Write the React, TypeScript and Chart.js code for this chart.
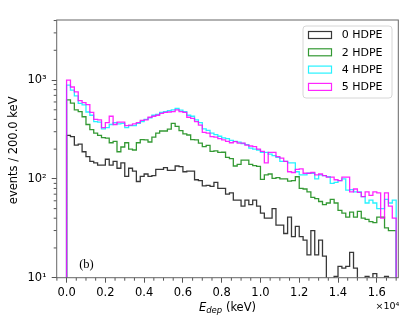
import React, { useEffect, useRef } from 'react';
import { Chart, registerables } from 'chart.js';

Chart.register(...registerables);

// ---- data (counts per 200 keV bin, bins start at 0 keV) ----
const BIN_WIDTH = 200;
const SERIES_LABELS = ['0 HDPE', '2 HDPE', '4 HDPE', '5 HDPE'];

const HDPE0 = [
  275, 268, 220, 225, 188, 168, 150, 145, 138, 138,
  158, 138, 150, 128, 145, 106, 128, 120, 94, 106,
  112, 106, 108, 125, 125, 130, 122, 122, 135, 133,
  118, 120, 120, 98, 96, 85, 86, 84, 92, 80,
  80, 70, 72, 61, 61, 53, 61, 55, 61, 53,
  45, 40, 40, 50, 34, 34, 28, 41, 26, 33,
  26, 24, 17, 30, 17, 24, 16.5, 0, 0, 10.3,
  13, 12.5, 13, 18, 12.5, 0, 0, 10.3, 0, 11,
  0, 0, 10.3, 0, 0,
];

const HDPE2 = [
  630, 585, 500, 480, 425, 355, 315, 290, 275, 262,
  258, 232, 240, 188, 210, 232, 200, 196, 232, 250,
  248, 236, 265, 290, 305, 305, 318, 365, 340, 308,
  285, 278, 250, 248, 230, 212, 218, 190, 192, 185,
  186, 165, 160, 135, 140, 155, 155, 140, 136, 134,
  99, 110, 112, 101, 103, 100, 100, 95, 96, 105,
  80, 79, 74, 65, 63, 59, 55, 57, 62, 57,
  48, 45, 41, 46, 41, 47, 40, 39, 37, 36,
  41, 41, 32, 30, 30,
];

const HDPE4 = [
  890, 790, 690, 580, 560, 475, 440, 380, 375, 320,
  330, 355, 370, 360, 365, 330, 345, 345, 365, 380,
  400, 415, 440, 450, 470, 480, 490, 500, 515, 495,
  480, 440, 430, 395, 370, 320, 310, 290, 280, 270,
  260, 255, 245, 240, 235, 228, 222, 205, 200, 195,
  185, 185, 178, 172, 165, 150, 150, 145, 145, 118,
  110, 110, 114, 114, 100, 110, 108, 105, 90, 92,
  96, 100, 77, 78, 74, 74, 66, 57, 61, 57,
  50, 50, 62, 57, 61,
];

const HDPE5 = [
  1000, 850, 760, 620, 590, 565, 470, 400, 395, 330,
  370, 430, 355, 375, 375, 345, 350, 360, 370, 390,
  395, 420, 430, 440, 460, 470, 475, 480, 500, 480,
  470, 420, 410, 380, 350, 295, 290, 268, 265, 255,
  248, 240, 232, 238, 230, 230, 220, 215, 212, 200,
  190, 145, 185, 185, 168, 162, 150, 118, 116, 125,
  126, 114, 114, 116, 110, 112, 108, 104, 104, 98,
  96, 104, 104, 74, 79, 73, 66, 74, 68, 74,
  72, 40, 72, 53, 40,
];

const X_MIN = -510;
const X_MAX = 17110;
const Y_MIN = 10;
const Y_MAX = 4050;
const X_TICKS = [0, 2000, 4000, 6000, 8000, 10000, 12000, 14000, 16000];
const X_MINOR_STEP = 500;
const Y_TICKS = [10, 100, 1000];
const Y_MINOR_MULT = [2, 3, 4, 5, 6, 7, 8, 9];
const SUP: Record<number, string> = { 1: '\u00b9', 2: '\u00b2', 3: '\u00b3', 4: '\u2074' };

const COLORS = ['rgba(0,0,0,0.78)', 'rgba(0,128,0,0.8)', 'rgba(0,240,255,0.85)', 'rgba(255,0,255,0.85)'];
const AXIS_COLOR = '#555';
const FONT = '"DejaVu Sans", sans-serif';
const FLOOR = 1; // zero counts drop below the log axis

function histPoints(vals: number[]) {
  const pts: { x: number; y: number }[] = [{ x: 0, y: FLOOR }];
  vals.forEach((v, i) => {
    const y = v > 0 ? v : FLOOR;
    pts.push({ x: i * BIN_WIDTH, y });
    pts.push({ x: (i + 1) * BIN_WIDTH, y });
  });
  pts.push({ x: vals.length * BIN_WIDTH, y: FLOOR });
  return pts;
}

const decor = {
  id: 'decor',
  afterDraw(chart: any) {
    const { ctx, chartArea: a, scales } = chart;
    const x = scales.x;
    const y = scales.y;
    ctx.save();
    // minor ticks
    ctx.strokeStyle = AXIS_COLOR;
    ctx.lineWidth = 1;
    ctx.beginPath();
    for (let v = Math.ceil(X_MIN / X_MINOR_STEP) * X_MINOR_STEP; v <= X_MAX; v += X_MINOR_STEP) {
      if (X_TICKS.includes(v)) continue;
      const px = x.getPixelForValue(v);
      if (px < a.left - 0.5 || px > a.right + 0.5) continue;
      ctx.moveTo(px, a.bottom);
      ctx.lineTo(px, a.bottom + 3);
    }
    for (const d of Y_TICKS) {
      for (const m of Y_MINOR_MULT) {
        const v = m * d;
        if (v > Y_MAX) continue;
        const py = y.getPixelForValue(v);
        ctx.moveTo(a.left - 3, py);
        ctx.lineTo(a.left, py);
      }
    }
    ctx.stroke();
    // frame
    ctx.strokeStyle = '#666';
    ctx.strokeRect(a.left, a.top, a.right - a.left, a.bottom - a.top);

    // x title: E_dep (keV)
    ctx.fillStyle = '#000';
    ctx.textBaseline = 'alphabetic';
    ctx.textAlign = 'left';
    const big = 11.5;
    ctx.font = `italic ${big}px ${FONT}`;
    const wE = ctx.measureText('E').width;
    ctx.font = `italic 8.5px ${FONT}`;
    const wD = ctx.measureText('dep').width;
    ctx.font = `${big}px ${FONT}`;
    const wK = ctx.measureText(' (keV)').width;
    const cx = (a.left + a.right) / 2;
    const base = a.bottom + 32.8;
    let sx = cx - (wE + wD + wK) / 2;
    ctx.font = `italic ${big}px ${FONT}`;
    ctx.fillText('E', sx, base);
    sx += wE;
    ctx.font = `italic 8.5px ${FONT}`;
    ctx.fillText('dep', sx, base + 2.5);
    sx += wD;
    ctx.font = `${big}px ${FONT}`;
    ctx.fillText(' (keV)', sx, base);

    // offset text x10^4
    ctx.textAlign = 'right';
    ctx.font = `9.5px ${FONT}`;
    ctx.fillText('\u00d710' + SUP[4], a.right + 1, a.bottom + 31.5);

    // y title
    ctx.save();
    ctx.translate(14, (a.top + a.bottom) / 2 + 1.5);
    ctx.rotate(-Math.PI / 2);
    ctx.textAlign = 'center';
    ctx.textBaseline = 'middle';
    ctx.font = `${big}px ${FONT}`;
    ctx.fillText('events / 200.0 keV', 0, 0);
    ctx.restore();

    // panel tag
    ctx.textAlign = 'left';
    ctx.textBaseline = 'middle';
    ctx.font = '12.5px "Liberation Serif", serif';
    ctx.fillText('(b)', x.getPixelForValue(650), y.getPixelForValue(13.5));

    // legend
    const lw = 89;
    const lh = 72;
    const lx = a.right - 6.3 - lw;
    const ly = a.top + 6;
    const r = 3;
    ctx.beginPath();
    ctx.moveTo(lx + r, ly);
    ctx.lineTo(lx + lw - r, ly);
    ctx.quadraticCurveTo(lx + lw, ly, lx + lw, ly + r);
    ctx.lineTo(lx + lw, ly + lh - r);
    ctx.quadraticCurveTo(lx + lw, ly + lh, lx + lw - r, ly + lh);
    ctx.lineTo(lx + r, ly + lh);
    ctx.quadraticCurveTo(lx, ly + lh, lx, ly + lh - r);
    ctx.lineTo(lx, ly + r);
    ctx.quadraticCurveTo(lx, ly, lx + r, ly);
    ctx.closePath();
    ctx.fillStyle = 'rgba(255,255,255,0.8)';
    ctx.fill();
    ctx.strokeStyle = '#d6d6d6';
    ctx.lineWidth = 1;
    ctx.stroke();
    SERIES_LABELS.forEach((lab, i) => {
      const cy = ly + 9 + i * 17.3;
      ctx.strokeStyle = COLORS[i];
      ctx.lineWidth = 1.2;
      ctx.strokeRect(lx + 5.5, cy - 3.5, 23, 7);
      ctx.fillStyle = '#000';
      ctx.font = `11px ${FONT}`;
      ctx.textAlign = 'left';
      ctx.textBaseline = 'middle';
      ctx.fillText(lab, lx + 38.7, cy + 0.5);
    });
    ctx.restore();
  },
};

export default function App() {
  const ref = useRef<HTMLCanvasElement>(null);

  useEffect(() => {
    document.body.style.margin = '0';
    const canvas = ref.current;
    if (!canvas) return;
    const all = [HDPE0, HDPE2, HDPE4, HDPE5];
    const chart = new Chart(canvas, {
      type: 'line',
      data: {
        datasets: all.map((vals, i) => ({
          label: SERIES_LABELS[i],
          data: histPoints(vals),
          borderColor: COLORS[i],
          borderWidth: 1.3,
          pointRadius: 0,
          fill: false,
          tension: 0,
          order: all.length - 1 - i,
        })),
      },
      options: {
        animation: false,
        responsive: false,
        devicePixelRatio: 1,
        layout: { padding: { top: 20, right: 20.7, left: 0, bottom: 0 } },
        plugins: { legend: { display: false }, tooltip: { enabled: false } },
        scales: {
          x: {
            type: 'linear',
            min: X_MIN,
            max: X_MAX,
            afterBuildTicks: (s: any) => {
              s.ticks = X_TICKS.map((v) => ({ value: v }));
            },
            afterFit: (s: any) => {
              s.height = 49.3;
            },
            ticks: {
              callback: (v: any) => (Number(v) / 1e4).toFixed(1),
              color: '#000',
              font: { size: 11.5, family: FONT },
              padding: 3,
              autoSkip: false,
              maxRotation: 0,
            },
            grid: { drawOnChartArea: false, drawTicks: true, tickLength: 5, tickColor: AXIS_COLOR, tickWidth: 1 },
            border: { display: false },
          },
          y: {
            type: 'logarithmic',
            min: Y_MIN,
            max: Y_MAX,
            afterBuildTicks: (s: any) => {
              s.ticks = Y_TICKS.map((v) => ({ value: v }));
            },
            afterFit: (s: any) => {
              s.width = 56.7;
            },
            ticks: {
              callback: (v: any) => '10' + SUP[Math.round(Math.log10(Number(v)))],
              color: '#000',
              font: { size: 11.5, family: FONT },
              padding: 5,
              autoSkip: false,
            },
            grid: { drawOnChartArea: false, drawTicks: true, tickLength: 5, tickColor: AXIS_COLOR, tickWidth: 1 },
            border: { display: false },
          },
        },
      } as any,
      plugins: [decor],
    });
    return () => chart.destroy();
  }, []);

  return (
    <div style={{ width: 419, height: 327 }}>
      <canvas ref={ref} width={419} height={327} style={{ display: 'block' }} />
    </div>
  );
}
